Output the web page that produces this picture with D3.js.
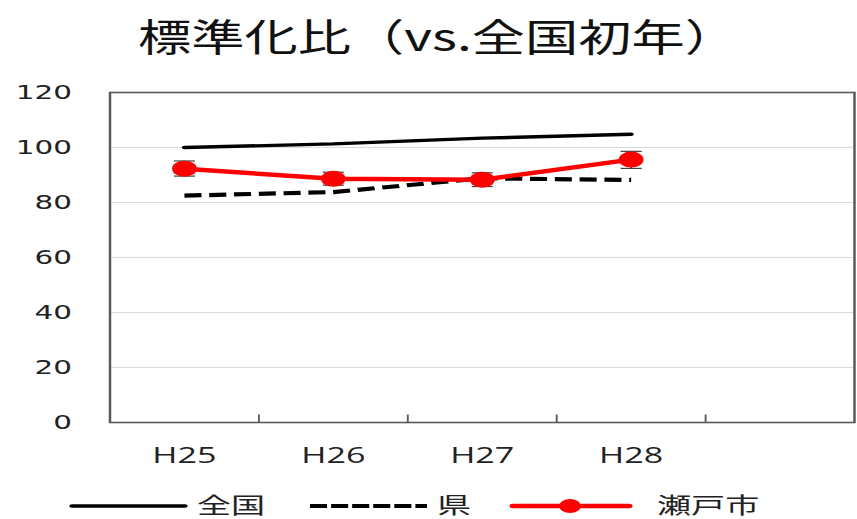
<!DOCTYPE html>
<html><head><meta charset="utf-8">
<script src="https://cdn.jsdelivr.net/npm/d3@7"></script>
<style>html,body{margin:0;padding:0;background:#fff;overflow:hidden}</style>
</head><body>
<svg id="chart" width="857" height="519"></svg>
<script>
// ---- data ----
const title = "標準化比（vs.全国初年）";
const categories = ["H25", "H26", "H27", "H28", ""];
const yTicks = [0, 20, 40, 60, 80, 100, 120];
const seriesNames = ["全国", "県", "瀬戸市"];
const national = [100, 101.3, 103.4, 104.8];
const prefecture = [82.5, 83.8, 88.8, 88.2];
const seto = [92.3, 88.6, 88.3, 95.6];
const setoLow = [89.6, 86.3, 85.8, 92.4];
const setoHigh = [95.1, 91.0, 90.8, 98.6];

// ---- layout (the original is horizontally stretched) ----
const S = 1.55;               // horizontal stretch
const W = 857 / S, H = 519;
const svg = d3.select("#chart")
  .attr("viewBox", `0 0 ${W} ${H}`)
  .attr("preserveAspectRatio", "none");

const px = v => v / S;        // pixel x -> view x
const plot = {left: px(110), right: px(854.5), top: 92.5, bottom: 422.5};

const x = d3.scaleBand().domain(categories).range([plot.left, plot.right]).padding(0);
const y = d3.scaleLinear().domain([0, 120]).range([plot.bottom, plot.top]);
const cx = (d, i) => x(categories[i]) + x.bandwidth() / 2;

// title
svg.append("text")
  .attr("x", px(138)).attr("y", 35)
  .attr("dominant-baseline", "central")
  .attr("font-family", "'Noto Sans CJK JP', sans-serif")
  .attr("font-size", 38).attr("fill", "#111")
  .attr("textLength", px(600)).attr("lengthAdjust", "spacingAndGlyphs")
  .text(title);

// gridlines
svg.append("g").selectAll("line").data(yTicks.filter(t => t > 0 && t < 120)).join("line")
  .attr("x1", plot.left).attr("x2", plot.right)
  .attr("y1", d => y(d)).attr("y2", d => y(d))
  .attr("stroke", "#d9d9d9").attr("stroke-width", 1.2);

// plot border
svg.append("rect")
  .attr("x", plot.left).attr("y", plot.top)
  .attr("width", plot.right - plot.left).attr("height", plot.bottom - plot.top)
  .attr("fill", "none").attr("stroke", "#595959").attr("stroke-width", 1.6);

// x ticks at band boundaries (pointing up)
svg.append("g").selectAll("line").data(categories.slice(1)).join("line")
  .attr("x1", d => x(d)).attr("x2", d => x(d))
  .attr("y1", plot.bottom).attr("y2", plot.bottom - 8)
  .attr("stroke", "#595959").attr("stroke-width", 1.2);

// y labels
svg.append("g").selectAll("text").data(yTicks).join("text")
  .attr("x", px(72)).attr("y", d => y(d))
  .attr("text-anchor", "end").attr("dominant-baseline", "central")
  .attr("font-family", "'DejaVu Sans', sans-serif").attr("font-size", 19)
  .attr("fill", "#222").text(d => d);

// x labels
svg.append("g").selectAll("text").data(categories).join("text")
  .attr("x", d => x(d) + x.bandwidth() / 2).attr("y", 454)
  .attr("text-anchor", "middle").attr("dominant-baseline", "central")
  .attr("font-family", "'Open Sans', sans-serif").attr("font-size", 22)
  .attr("fill", "#222").text(d => d);

const line = d3.line().x(cx).y(d => y(d));

// national
svg.append("path").datum(national).attr("d", line)
  .attr("fill", "none").attr("stroke", "#000").attr("stroke-width", 3.4)
  .attr("stroke-linecap", "round");

// prefecture dashed
svg.append("path").datum(prefecture).attr("d", line)
  .attr("fill", "none").attr("stroke", "#000").attr("stroke-width", 4.2)
  .attr("stroke-dasharray", "11,5").attr("stroke-linecap", "butt");

// seto error bars
const eb = svg.append("g");
seto.forEach((v, i) => {
  const xc = cx(v, i);
  eb.append("line").attr("x1", xc).attr("x2", xc).attr("y1", y(setoLow[i])).attr("y2", y(setoHigh[i]))
    .attr("stroke", "#404040").attr("stroke-width", 1);
  [setoLow[i], setoHigh[i]].forEach(e => {
    eb.append("line").attr("x1", xc - 6.8).attr("x2", xc + 6.8).attr("y1", y(e)).attr("y2", y(e))
      .attr("stroke", "#404040").attr("stroke-width", 1.2);
  });
});

// seto line + markers
svg.append("path").datum(seto).attr("d", line)
  .attr("fill", "none").attr("stroke", "#ff0000").attr("stroke-width", 4.5)
  .attr("stroke-linejoin", "round");
svg.append("g").selectAll("circle").data(seto).join("circle")
  .attr("cx", cx).attr("cy", d => y(d)).attr("r", 8)
  .attr("fill", "#ff0000");

// legend
const lg = svg.append("g").attr("font-family", "'Noto Sans CJK JP', sans-serif").attr("font-size", 22).attr("fill", "#222");
const ly = 506, ty = 503;
lg.append("line").attr("x1", px(72)).attr("x2", px(185)).attr("y1", ly).attr("y2", ly)
  .attr("stroke", "#000").attr("stroke-width", 3.5).attr("stroke-linecap", "round");
lg.append("text").attr("x", px(197)).attr("y", ty).attr("dominant-baseline", "central").text(seriesNames[0]);
lg.append("line").attr("x1", px(310)).attr("x2", px(427)).attr("y1", ly).attr("y2", ly)
  .attr("stroke", "#000").attr("stroke-width", 4).attr("stroke-dasharray", "11,2.6");
lg.append("text").attr("x", px(437)).attr("y", ty).attr("dominant-baseline", "central").text(seriesNames[1]);
lg.append("line").attr("x1", px(513)).attr("x2", px(629)).attr("y1", ly).attr("y2", ly)
  .attr("stroke", "#ff0000").attr("stroke-width", 4.5).attr("stroke-linecap", "round");
lg.append("circle").attr("cx", px(570)).attr("cy", ly).attr("r", 7).attr("fill", "#ff0000");
lg.append("text").attr("x", px(657)).attr("y", ty).attr("dominant-baseline", "central").text(seriesNames[2]);
</script>
</body></html>
